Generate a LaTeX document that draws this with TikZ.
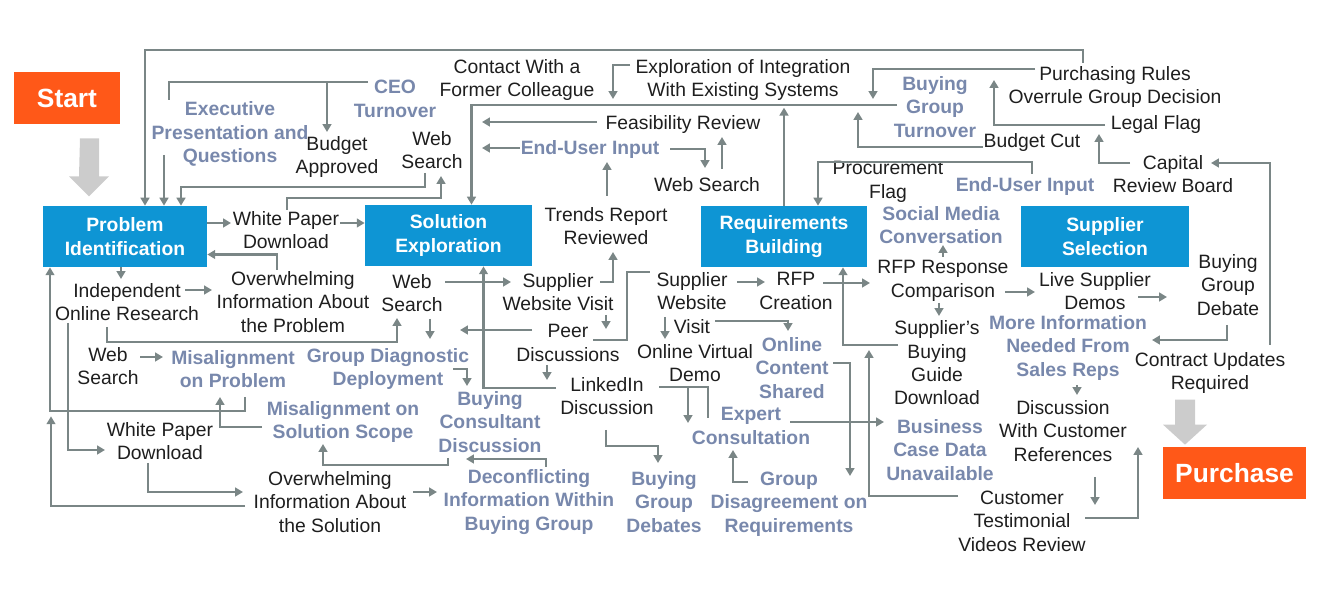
\documentclass[tikz,border=0pt]{standalone}
\usepackage{fontspec}
\setmainfont{Liberation Sans}
\usetikzlibrary{arrows.meta,calc}
\definecolor{boxblue}{RGB}{14,149,212}
\definecolor{signal}{RGB}{255,88,24}
\definecolor{inkblack}{RGB}{30,30,30}
\definecolor{slateblue}{RGB}{120,136,172}
\definecolor{wire}{RGB}{122,134,134}
\definecolor{shade}{RGB}{204,204,204}

\begin{document}
\begin{tikzpicture}[x=0.02cm, y=-0.02cm,
        txt/.style={align=center, inner sep=0pt, text=inkblack, font=\fontsize{11}{13.3}\selectfont},
        soft/.style={txt, text=slateblue, font=\fontsize{11}{13.3}\selectfont\bfseries},
        stage/.style={fill=boxblue, text=white, align=center, inner sep=0pt, minimum height=1.22cm, font=\fontsize{11}{13.3}\selectfont\bfseries},
        goal/.style={fill=signal, text=white, inner sep=0pt, minimum height=1.04cm, font=\fontsize{15}{18}\selectfont\bfseries},
        flow/.style={draw=wire, line width=1.6pt, -{Triangle[length=4.5pt,width=5pt]}},
        link/.style={draw=wire, line width=1.6pt},
        bigarrow/.style={fill=shade}]
        \useasboundingbox (0,0) rectangle (1320,614);

        \node [goal, minimum width=2.12cm] (start) at (67,98) {Start};
        \node [goal, minimum width=2.86cm] (purchase) at (1234.5,473) {Purchase};
        \node [stage, minimum width=3.28cm] (pi) at (125,236.5) {Problem\\Identification};
        \node [stage, minimum width=3.34cm] (se) at (448.5,235.5) {Solution\\Exploration};
        \node [stage, minimum width=3.32cm] (rb) at (784,236.5) {Requirements\\Building};
        \node [stage, minimum width=3.36cm] (ss) at (1105,236.5) {Supplier\\Selection};

        \node [soft] (ceo) at (395,99) {CEO\\Turnover};
        \node [soft] (exec) at (230,134) {Executive\\Presentation and\\Questions};
        \node [txt] (budgetok) at (337,157) {Budget\\Approved};
        \node [txt] (websearchA) at (432,150) {Web\\Search};
        \node [txt] (contact) at (517,80) {Contact With a\\Former Colleague};
        \node [txt] (integration) at (743,80) {Exploration of Integration\\With Existing Systems};
        \node [txt] (feasibility) at (683,125) {Feasibility Review};
        \node [soft] (enduserA) at (590,150) {End-User Input};
        \node [txt] (websearchB) at (707,185) {Web Search};
        \node [soft] (bgturnover) at (935,107) {Buying\\Group\\Turnover};
        \node [txt] (rules) at (1115,87) {Purchasing Rules\\Overrule Group Decision};
        \node [txt] (legal) at (1156,125) {Legal Flag};
        \node [txt] (budgetcut) at (1032,143) {Budget Cut};
        \node [txt] (capital) at (1173,174) {Capital\\Review Board};
        \node [txt] (procurement) at (888,182) {Procurement\\Flag};
        \node [soft] (enduserB) at (1025,187) {End-User Input};
        \node [soft] (socialmedia) at (941,225) {Social Media\\Conversation};
        \node [txt] (whitepaperA) at (286,230) {White Paper\\Download};
        \node [txt] (trends) at (606,226) {Trends Report\\Reviewed};
        \node [txt] (independent) at (127,302) {Independent\\Online Research};
        \node [txt] (overprob) at (293,302) {Overwhelming\\Information About\\the Problem};
        \node [txt] (websearchC) at (412,293) {Web\\Search};
        \node [txt] (suppwebA) at (558,292) {Supplier\\Website Visit};
        \node [txt] (suppwebB) at (692,303) {Supplier\\Website\\Visit};
        \node [txt] (rfp) at (796,291) {RFP\\Creation};
        \node [txt] (rfpresp) at (943,281) {RFP Response\\Comparison};
        \node [txt] (livedemos) at (1095,291) {Live Supplier\\Demos};
        \node [txt] (bgdebate) at (1228,285) {Buying\\Group\\Debate};
        \node [txt] (peer) at (568,343) {Peer\\Discussions};
        \node [txt] (virtualdemo) at (695,363) {Online Virtual\\Demo};
        \node [soft] (content) at (792,368) {Online\\Content\\Shared};
        \node [txt] (buyguide) at (937,363) {Supplier's\\Buying\\Guide\\Download};
        \node [soft] (moreinfo) at (1068,348) {More Information\\Needed From\\Sales Reps};
        \node [txt] (contract) at (1210,373) {Contract Updates\\Required};
        \node [soft] (misprob) at (233,369) {Misalignment\\on Problem};
        \node [soft] (diagnostic) at (388,369) {Group Diagnostic\\Deployment};
        \node [txt] (websearchD) at (108,366) {Web\\Search};
        \node [txt] (linkedin) at (607,396) {LinkedIn\\Discussion};
        \node [soft] (consultant) at (490,422) {Buying\\Consultant\\Discussion};
        \node [soft] (misscope) at (343,422) {Misalignment on\\Solution Scope};
        \node [txt] (whitepaperB) at (160,441) {White Paper\\Download};
        \node [soft] (expert) at (751,426) {Expert\\Consultation};
        \node [soft] (bizcase) at (940,450) {Business\\Case Data\\Unavailable};
        \node [txt] (references) at (1063,431) {Discussion\\With Customer\\References};
        \node [txt] (oversol) at (330,502) {Overwhelming\\Information About\\the Solution};
        \node [soft] (deconflict) at (529,502) {Deconflicting\\Information Within\\Buying Group};
        \node [soft] (bgdebates) at (664,502) {Buying\\Group\\Debates};
        \node [soft] (disagree) at (789,504) {Group\\Disagreement on\\Requirements};
        \node [txt] (testimonial) at (1022,521) {Customer\\Testimonial\\Videos Review};

        \fill [bigarrow] (start.south) ++(13,14) -- ++(19,0) -- ++(0,38) -- ++(10,0) -- ++(-20,20) -- ++(-20,-20) -- ++(10,0) -- cycle;
        \fill [bigarrow] (purchase.north) ++(-59.5,-47) -- ++(20,0) -- ++(0,25) -- ++(12,0) -- ++(-22,20) -- ++(-22,-20) -- ++(12,0) -- cycle;

        \draw [flow] ($(rules)+(-32,-24)$) -- ++(0,-13) -| ($(pi.north)+(20,0)$);
        \draw [link] ($(ceo)+(-27,-17)$) -| ($(exec)+(-61,-34)$);
        \draw [flow] ($(ceo)+(-68,-17)$) -- ($(budgetok)+(-10,-25)$);
        \draw [flow] ($(exec)+(-66,21)$) -- ($(pi.north)+(39,0)$);
        \draw [flow] ($(websearchA)+(-7,23)$) -- ++(0,14) -| ($(pi.north)+(56,0)$);
        \draw [flow] ($(whitepaperA)+(1,-20)$) -- ++(0,-12) -| ($(websearchA)+(9,26)$);
        \draw [flow] ($(pi.east)+(0,-13.5)$) -- ($(whitepaperA)+(-55,-7)$);
        \draw [flow] ($(whitepaperA)+(54,-7)$) -- ($(se.west)+(0,-12.5)$);
        \draw [flow] ($(overprob)+(-16,-32)$) |- ($(pi.east)+(0,18)$);
        \draw [flow] ($(pi.south)+(-4,0)$) -- ($(independent)+(-6,-23)$);
        \draw [flow] ($(independent)+(58,-12)$) -- ($(overprob)+(-81,-12)$);
        \draw [flow] ($(independent)+(-20,25)$) -- ++(0,15) -| ($(websearchC)+(-15,25)$);
        \draw [flow] ($(websearchC)+(18,26)$) -- ($(diagnostic)+(42,-30)$);
        \draw [flow] ($(websearchC)+(33,-11)$) -- ($(suppwebA)+(-47,-10)$);
        \draw [flow] ($(websearchD)+(32,-9)$) -- ($(misprob)+(-70,-12)$);
        \draw [flow] ($(independent)+(-59,21)$) |- ($(whitepaperB)+(-55,9)$);
        \draw [flow] ($(misprob)+(12,28)$) -- ++(0,14) -| ($(pi.south)+(-75,0)$);
        \draw [flow] ($(misscope)+(-81,5)$) -| ($(misprob)+(-13,28)$);
        \draw [flow] ($(oversol)+(-85,4)$) -| ($(pi.south)+(-74,149)$);
        \draw [flow] ($(whitepaperB)+(-12,22)$) |- ($(oversol)+(-87,-10)$);
        \draw [flow] ($(oversol)+(83,-10)$) -- ($(deconflict)+(-92,-10)$);
        \draw [flow] ($(deconflict)+(17,-35)$) |- ($(consultant)+(-24,37)$);
        \draw [flow] ($(consultant)+(-42,36)$) -- ++(0,7) -| ($(misscope)+(-20,22)$);
        \draw [flow] ($(diagnostic)+(65,0)$) -| ($(consultant)+(-23,-36)$);
        \draw [flow] ($(peer)+(-36,-13)$) -- ($(websearchC)+(48,37)$);
        \draw [flow] ($(linkedin)+(-51,-8)$) -| ($(se.south)+(35,0)$);
        \draw [flow] ($(suppwebA)+(42,-10)$) -| ($(trends)+(7,26)$);
        \draw [flow] ($(suppwebA)+(48,23)$) -- ($(peer)+(38,-14)$);
        \draw [flow] ($(peer)+(-21,22)$) -- ($(linkedin)+(-60,-16)$);
        \draw [link] ($(peer)+(25,-3)$) -- ++(34,0) |- ($(suppwebB)+(-42,-31)$);
        \draw [flow] ($(trends)+(1,-30)$) -- ($(enduserA)+(17,12)$);
        \draw [flow] ($(enduserA)+(-70,-2)$) -- ++(-38,0);
        \draw [flow] ($(feasibility)+(-86,-3)$) -- ++(-115,0);
        \draw [flow] ($(bgturnover)+(-38,-2)$) -| ($(se.north)+(23,0)$);
        \draw [flow] (rb.north) -- ++(0,-98);
        \draw [flow] ($(integration)+(-113,-15)$) -| ($(integration)+(-130,19)$);
        \draw [flow] ($(rules)+(-80,-18)$) -| ($(bgturnover)+(-62,-8)$);
        \draw [flow] ($(enduserA)+(80,-1)$) -| ($(websearchB)+(-2,-17)$);
        \draw [flow] ($(websearchB)+(15,-16)$) -- ($(feasibility)+(39,12)$);
        \draw [flow] ($(budgetcut)+(-49,4)$) -| ($(bgturnover)+(-77,5)$);
        \draw [flow] ($(legal)+(-51,0)$) -| ($(rules)+(-121,-7)$);
        \draw [flow] ($(capital)+(-43,-11)$) -| ($(legal)+(-57,9)$);
        \draw [flow] ($(contract)+(60,-28)$) |- ($(capital)+(38,-11)$);
        \draw [flow] ($(enduserB)+(7,-13)$) -- ++(0,-12) -| ($(rb.north)+(34,0)$);
        \draw [flow] ($(rfpresp)+(0,-24)$) -- ($(socialmedia)+(2,20)$);
        \draw [flow] ($(suppwebB)+(45,-21)$) -- ($(rfp)+(-31,-9)$);
        \draw [flow] ($(suppwebB)+(-27,14)$) -- ($(virtualdemo)+(-30,-24)$);
        \draw [flow] ($(suppwebB)+(23,18)$) -| ($(content)+(-4,-37)$);
        \draw [flow] ($(rfp)+(27,-8)$) -- ($(rfpresp)+(-73,2)$);
        \draw [flow] ($(buyguide)+(-39,-18)$) -| ($(rb.south)+(59,0)$);
        \draw [flow] ($(rfpresp)+(-4,22)$) -- ($(buyguide)+(2,-47)$);
        \draw [flow] ($(rfpresp)+(62,11)$) -- ($(livedemos)+(-60,1)$);
        \draw [flow] ($(livedemos)+(43,6)$) -- ($(bgdebate)+(-61,12)$);
        \draw [flow] ($(bgdebate)+(-1,40)$) |- ($(moreinfo)+(84,-8)$);
        \draw [flow] ($(moreinfo)+(9,37)$) -- ($(references)+(14,-36)$);
        \draw [flow] ($(references)+(32,46)$) -- ($(testimonial)+(73,-16)$);
        \draw [flow] ($(testimonial)+(63,-3)$) -| ($(references)+(75,16)$);
        \draw [flow] ($(testimonial)+(-64,-25)$) -| ($(buyguide)+(-68,-13)$);
        \draw [flow] ($(content)+(41,-5)$) -| ($(disagree)+(61,-28)$);
        \draw [flow] ($(expert)+(39,-4)$) -- ($(bizcase)+(-56,-28)$);
        \draw [link] ($(linkedin)+(52,-9)$) -| ($(expert)+(-43,-8)$);
        \draw [flow] ($(linkedin)+(81,-9)$) -- ($(expert)+(-63,-3)$);
        \draw [flow] ($(linkedin)+(-1,34)$) -- ++(0,16) -| ($(bgdebates)+(-6,-39)$);
        \draw [flow] ($(disagree)+(-41,-22)$) -| ($(expert)+(-18,24)$);
\end{tikzpicture}
\end{document}
